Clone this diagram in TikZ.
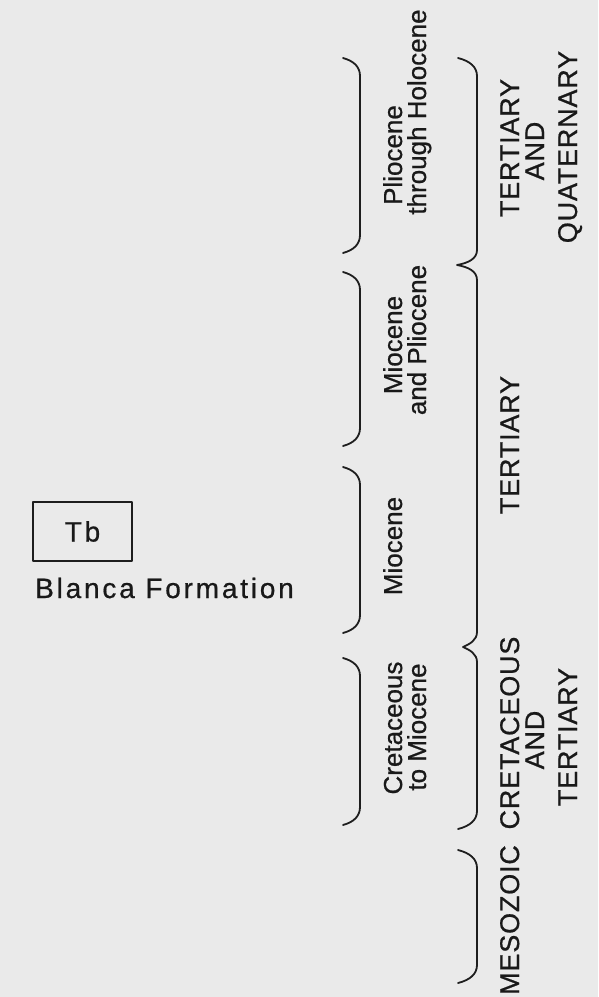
\documentclass[tikz,border=0pt]{standalone}
\usepackage{fontspec}
\setmainfont{Liberation Sans}[FakeBold=0.7]
\newfontfamily\capsfont{Liberation Sans}[LetterSpace=3,FakeBold=0.7]
\newfontfamily\wideface{Liberation Sans}[LetterSpace=10,FakeBold=0.7]
\begin{document}
\begin{tikzpicture}[x=1pt,y=-1pt,
  ink/.style={draw={rgb,255:red,30;green,30;blue,30},line width=1.8pt,line cap=round,line join=round},
  vlbl/.style={rotate=90,anchor=base,inner sep=0pt,font=\fontsize{26}{26}\selectfont,text={rgb,255:red,25;green,25;blue,25}},
  vcap/.style={vlbl,font=\fontsize{27}{27}\capsfont},
  hlbl/.style={inner sep=0pt,font=\fontsize{28}{28}\wideface,text={rgb,255:red,25;green,25;blue,25}}]
\definecolor{paper}{RGB}{234,234,234}
\fill[paper] (0,0) rectangle (598,997);
\useasboundingbox (0,0) rectangle (598,997);

% legend box
\node[ink,draw,minimum width=99pt,minimum height=59pt,inner sep=0pt] (box) at (82.5,531.5) {};
\node[hlbl] (tb) at (box.center) {Tb};
\node[hlbl,anchor=base west] (blanca) at (35,598) {Blanca Formation};

% column 1 brackets
\foreach \a/\b/\n in {58/253/b1,272/446/b2,467/633/b3,658/825/b4}{
  \coordinate (\n top) at (343,\a);
  \coordinate (\n bot) at (343,\b);
  \draw[ink] (\n top) .. controls (354,\a+3) and (360,\a+9) .. (360,\a+18)
     -- (360,\b-18) .. controls (360,\b-9) and (354,\b-3) .. (\n bot);
}

% column 2 long brace
\coordinate (c2top) at (458,58);
\coordinate (tip1) at (457,265);
\coordinate (tip2) at (463,647);
\coordinate (c2bot) at (458,829);
\draw[ink] (c2top) .. controls (470,61) and (477,67) .. (477,76)
  -- (477,250) .. controls (477,259) and (468,263) .. (tip1)
  .. controls (468,267) and (477,271) .. (477,280)
  -- (477,632) .. controls (477,640) and (470,644) .. (tip2)
  .. controls (470,650) and (477,654) .. (477,662)
  -- (477,811) .. controls (477,820) and (470,826) .. (c2bot);

% Mesozoic bracket
\coordinate (mtop) at (458,850);
\coordinate (mbot) at (458,983);
\draw[ink] (mtop) .. controls (470,853) and (477,859) .. (477,868)
  -- (477,965) .. controls (477,974) and (470,980) .. (mbot);

% column 1 labels
\node[vlbl] (p1) at (402,155) {Pliocene};
\node[vlbl] (p2) at (426,112) {through Holocene};
\node[vlbl] (m1) at (402,345) {Miocene};
\node[vlbl] (m2) at (426,340) {and Pliocene};
\node[vlbl] (mi) at (402,546) {Miocene};
\node[vlbl] (c1) at (402,728) {Cretaceous};
\node[vlbl] (c2) at (426,727) {to Miocene};

% column 2 labels
\node[vcap] (tq1) at (519,148) {TERTIARY};
\node[vcap] (tq2) at (544,151) {AND};
\node[vcap] (tq3) at (577,147) {QUATERNARY};
\node[vcap] (te) at (519,445) {TERTIARY};
\node[vcap] (ct1) at (519,733) {CRETACEOUS};
\node[vcap] (ct2) at (544,740) {AND};
\node[vcap] (ct3) at (577,737) {TERTIARY};
\node[vcap] (mz) at (519,920) {MESOZOIC};
\end{tikzpicture}
\end{document}
